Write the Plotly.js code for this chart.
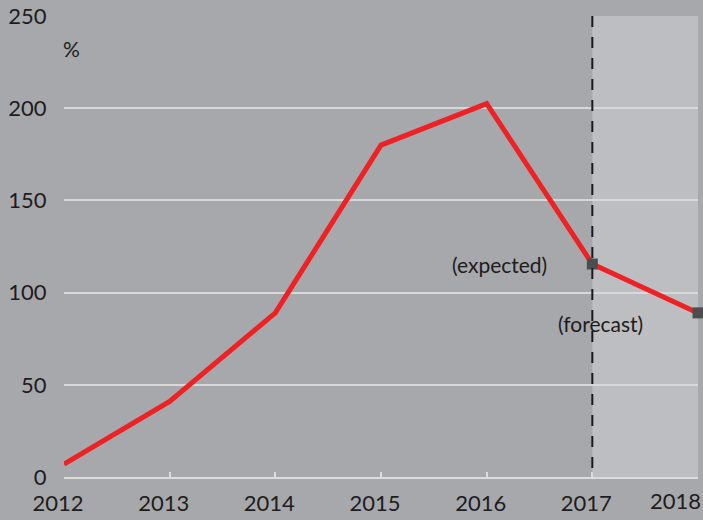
<!DOCTYPE html>
<html>
<head>
<meta charset="utf-8">
<script src="https://cdn.plot.ly/plotly-3.0.1.min.js"></script>
<style>html,body{margin:0;padding:0;background:#a7a8ab;}#chart{width:703px;height:520px;}</style>
</head>
<body>
<div id="chart"></div>
<script>
const years = [2012, 2013, 2014, 2015, 2016, 2017, 2018];
const values = [7, 41, 89, 180, 202.5, 115.5, 89];
const markerYears = [2017, 2018];
const markerValues = [115.5, 89];
const yTicks = [0, 50, 100, 150, 200, 250];
const xTicks = [2012, 2013, 2014, 2015, 2016, 2017, 2018];

const font = "Lato, 'Open Sans', sans-serif";
const txt = '#1d1d1d';

const traces = [
  {x: years, y: values, type: 'scatter', mode: 'lines',
   line: {color: '#ee2124', width: 5}, cliponaxis: false, hoverinfo: 'skip'},
  {x: markerYears, y: markerValues, type: 'scatter', mode: 'markers',
   marker: {symbol: 'square', size: 11, color: '#4b4e51'}, cliponaxis: false, hoverinfo: 'skip'}
];

const lastTick = xTicks[xTicks.length - 1];

const layout = {
  width: 703, height: 520,
  margin: {l: 64, r: 5, t: 16, b: 43},
  paper_bgcolor: '#a7a8ab', plot_bgcolor: '#a7a8ab',
  showlegend: false,
  font: {family: font, color: txt, size: 22},
  xaxis: {range: [2012, 2018], tickvals: xTicks,
    ticktext: xTicks.map(v => v === lastTick ? '' : String(v)),
    showgrid: false, zeroline: false, showline: true, linecolor: '#dcdcdc', linewidth: 2,
    ticks: 'inside', ticklen: 5, tickwidth: 2, tickcolor: '#dcdcdc',
    ticklabelshift: -6, ticklabelstandoff: 6,
    tickfont: {family: font, size: 22, color: txt}, fixedrange: true},
  yaxis: {range: [0, 250], tickvals: yTicks, ticktext: yTicks.map(String),
    showgrid: true, gridcolor: '#d8d8d8', gridwidth: 2, zeroline: false, showline: false,
    ticks: 'outside', ticklen: 12, tickcolor: 'rgba(0,0,0,0)',
    tickfont: {family: font, size: 22, color: txt}, fixedrange: true},
  shapes: [
    {type: 'rect', xref: 'x', yref: 'y', x0: 2017, x1: 2018, y0: 0, y1: 250,
     fillcolor: '#bdbec1', line: {width: 0}, layer: 'below'},
    {type: 'line', xref: 'x', yref: 'y', x0: 2017, x1: 2017, y0: 250, y1: 0,
     line: {color: '#1a1a1a', width: 2, dash: '11px,10px'}, layer: 'above'}
  ],
  annotations: [
    {text: String(lastTick), xref: 'x', yref: 'paper', x: lastTick, y: 0, xanchor: 'right', yanchor: 'top',
     xshift: 5, yshift: -8, showarrow: false, font: {family: font, size: 22, color: txt}},
    {text: '%', xref: 'paper', yref: 'y', x: 0, y: 232.5, xanchor: 'left', yanchor: 'middle', xshift: -3,
     showarrow: false, font: {family: font, size: 21, color: txt}},
    {text: '(expected)', xref: 'x', yref: 'y', x: 2016.59, y: 115.5, xanchor: 'right', yanchor: 'middle',
     showarrow: false, font: {family: font, size: 21, color: txt}},
    {text: '(forecast)', xref: 'x', yref: 'y', x: 2017.08, y: 83, xanchor: 'center', yanchor: 'middle',
     showarrow: false, font: {family: font, size: 21, color: txt}},
    {text: 'Source: Fitch Ratings', xref: 'paper', yref: 'paper', x: -0.085, y: 0, yshift: -53,
     xanchor: 'left', yanchor: 'top', showarrow: false, font: {family: font, size: 13, color: '#333333'}}
  ]
};

Plotly.newPlot('chart', traces, layout, {displayModeBar: false, staticPlot: true});
</script>
</body>
</html>
